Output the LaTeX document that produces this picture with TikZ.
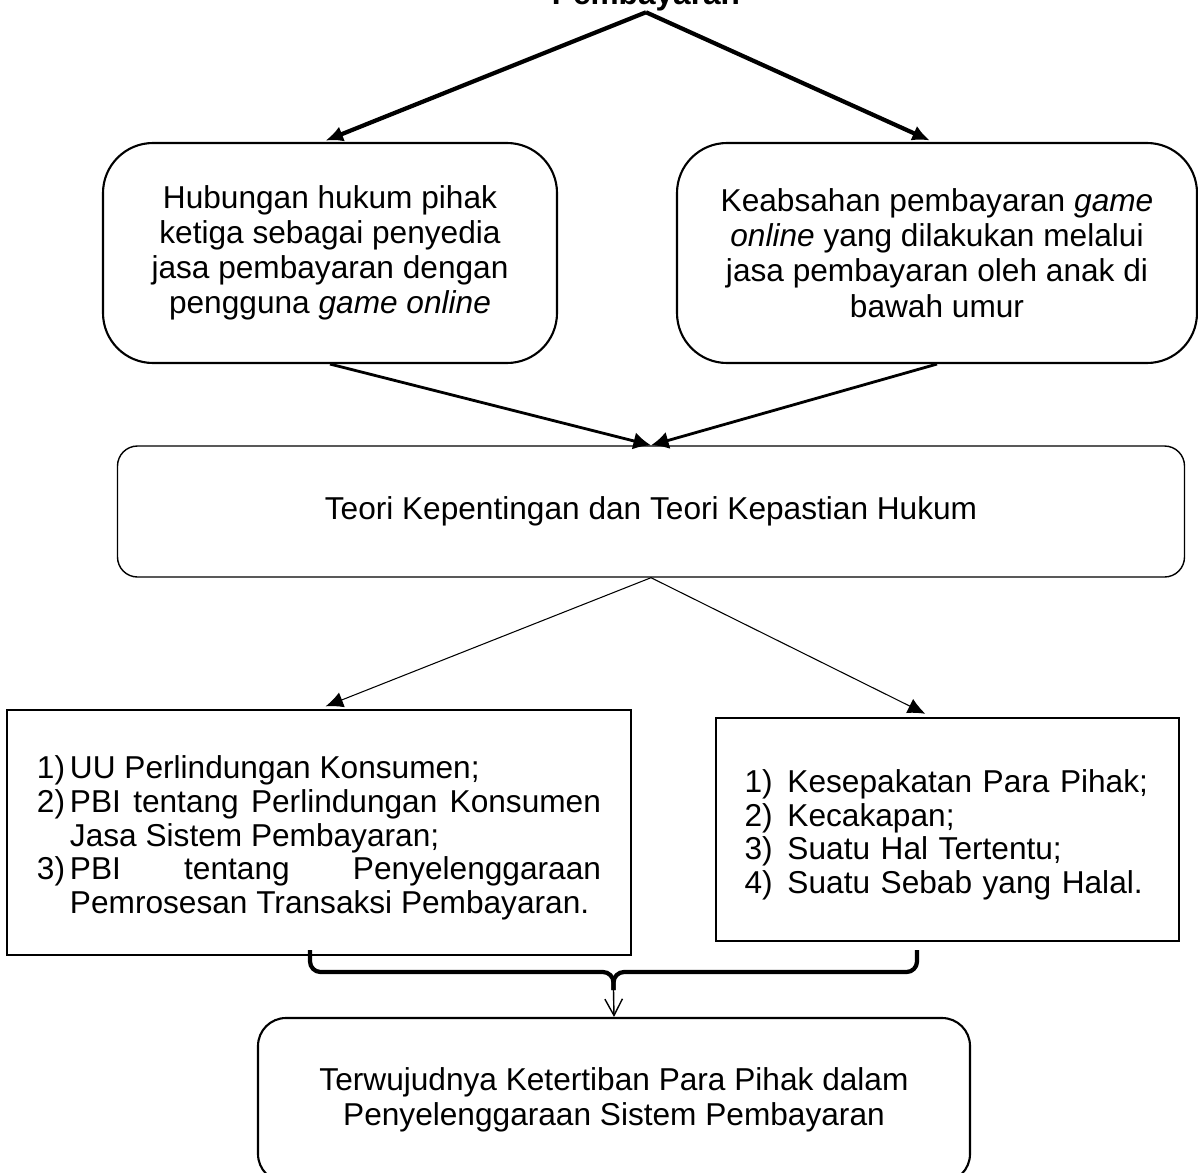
\documentclass[tikz,border=0pt]{standalone}
\usepackage{fontspec}
\setmainfont{Liberation Sans}
\usepackage{tikz}
\usetikzlibrary{arrows.meta,shapes}
\tikzstyle{roundbox}=[draw,semithick,rounded corners=0.5cm,align=center,inner sep=0pt,font=\fontsize{9}{10}\selectfont]
\tikzstyle{listbox}=[draw,semithick,rectangle,inner sep=0pt,font=\fontsize{9}{9.6}\selectfont]
\tikzstyle{bigedge}=[draw,very thick,-{Latex[length=5pt,width=4.5pt]}]
\tikzstyle{midedge}=[draw,thick,-{Latex[length=5pt,width=5pt]}]
\tikzstyle{thinedge}=[draw,line width=0.3pt,-{Latex[length=5pt,width=4.5pt]}]
\tikzstyle{openedge}=[draw,line width=0.4pt,-{Straight Barb[length=4.7pt,width=5pt]}]
\tikzstyle{bracket}=[draw,line width=1.2pt,rounded corners=3pt]
\newcommand{\numitem}[2]{\par\noindent\hangindent=#2\hangafter=1\makebox[#2][l]{#1}}

\begin{document}
\begin{tikzpicture}
    \useasboundingbox (0,0) rectangle (11.98,-11.72);
    % Title at the top, mostly cut off by the page
    \node[anchor=base,inner sep=0pt,font=\fontsize{9}{10}\selectfont\bfseries] (title) at (6.46,-0.05) {Pembayaran};

    % The two questions
    \node[roundbox,minimum width=4.54cm,minimum height=2.2cm] (hub) at (3.30,-2.53)
        {Hubungan hukum pihak\\ketiga sebagai penyedia\\jasa pembayaran dengan\\pengguna \textit{game online}};
    \node[roundbox,minimum width=5.20cm,minimum height=2.2cm] (sah) at (9.37,-2.53)
        {Keabsahan pembayaran \textit{game}\\\textit{online} yang dilakukan melalui\\jasa pembayaran oleh anak di\\bawah umur};

    % Theories
    \node[roundbox,thin,rounded corners=0.2cm,minimum width=10.67cm,minimum height=1.31cm] (teori) at (6.51,-5.115)
        {Teori Kepentingan dan Teori Kepastian Hukum};

    % The two lists
    \node[listbox,minimum width=6.24cm,minimum height=2.45cm,text width=5.64cm,align=justify] (uu) at (3.19,-8.325) {%
        \numitem{1)}{0.33cm}UU Perlindungan Konsumen;
        \numitem{2)}{0.33cm}PBI tentang Perlindungan Konsumen\linebreak Jasa Sistem Pembayaran;
        \numitem{3)}{0.33cm}PBI tentang Penyelenggaraan\linebreak Pemrosesan Transaksi Pembayaran.\par};
    \node[listbox,minimum width=4.63cm,minimum height=2.23cm,text width=4.06cm,align=left] (syarat) at (9.475,-8.295) {%
        \numitem{1)}{0.43cm}Kesepakatan Para Pihak;
        \numitem{2)}{0.43cm}Kecakapan;
        \numitem{3)}{0.43cm}Suatu Hal Tertentu;
        \numitem{4)}{0.43cm}Suatu Sebab yang Halal.\par};

    % Result
    \node[roundbox,rounded corners=0.28cm,minimum width=7.12cm,minimum height=1.64cm] (hasil) at (6.14,-11.00)
        {Terwujudnya Ketertiban Para Pihak dalam\\Penyelenggaraan Sistem Pembayaran};

    % Connect the boxes
    \foreach \dest in {hub.94,sah.92}
        \path[bigedge,shorten >=1pt] (title.south) -- (\dest);
    \foreach \source in {hub,sah}
        \path[midedge] (\source.south) -- (teori.north);
    \foreach \dest in {uu.north,syarat.98}
        \path[thinedge,shorten >=2pt] (teori.south) -- (\dest);

    % Bracket under the lists
    \coordinate (braceL) at (3.10,-9.50);
    \coordinate (braceR) at (9.17,-9.50);
    \coordinate (braceMid) at (6.135,-9.72);
    \coordinate (braceTip) at (6.135,-9.90);
    \foreach \source in {braceL,braceR}
        \path[bracket] (\source) |- (braceMid) -- (braceTip);
    \path[openedge] (braceTip) -- (hasil.north);
\end{tikzpicture}
\end{document}
